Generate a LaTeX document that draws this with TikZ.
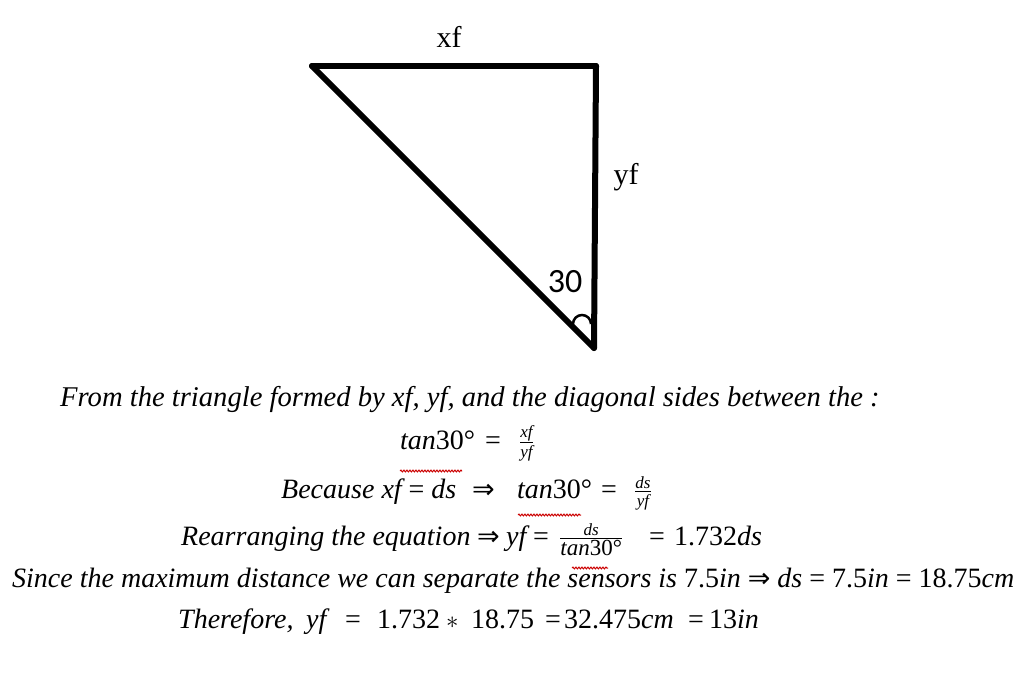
\documentclass[tikz,border=0pt]{standalone}
\usepackage{amsmath}
\usepackage{fontspec}
\setmainfont{Liberation Serif}
\newfontfamily\calfont{Carlito}
\newfontfamily\symfont{DejaVu Sans}
\usetikzlibrary{decorations.pathmorphing}
\tikzset{
  side/.style={line width=6pt, line cap=round},
  lbl/.style={inner sep=0pt, font=\fontsize{30}{36}\selectfont},
  eq/.style={inner sep=0pt, anchor=base west, font=\fontsize{28}{34}\selectfont\itshape},
  squig/.style={red!80!black, line width=1pt, decorate, decoration={snake, amplitude=0.9pt, segment length=3pt}}
}
\newcommand{\up}[1]{{\upshape #1}}
\newcommand{\impl}{{\symfont\upshape\fontsize{27}{30}\selectfont ⇒}}
\newcommand{\fr}[3][17]{$\genfrac{}{}{1pt}{}{\hbox{\fontsize{17}{17}\selectfont\itshape #2}}{\hbox{\fontsize{#1}{#1}\selectfont\itshape #3}}$}
\begin{document}
\begin{tikzpicture}[x=1pt,y=-1pt]
\useasboundingbox[fill=white] (0,0) rectangle (1030,686);
% triangle
\coordinate (A) at (312,66);
\coordinate (B) at (596,66);
\coordinate (C) at (594,348);
\draw[side] (A) -- (B);
\draw[side] (B) -- (C);
\draw[side] (C) -- (A);
\draw[line width=2.5pt] (573,324) arc[start angle=180, end angle=360, radius=9];
\node[lbl] (xf) at (449,37) {xf};
\node[lbl] (yf) at (626,177) {yf};
\node[lbl, font=\calfont\fontsize{34}{40}\selectfont] (ang) at (565,282) {30};
% line 1
\node[eq, font=\fontsize{28.6}{34}\selectfont\itshape] (l1) at (60,406) {From the triangle formed by xf, yf, and the diagonal sides between the :};
% line 2
\node[eq] (l2a) at (400,449) {tan\up{30°}};
\node[eq] (l2b) at (485,449) {\up{=}};
\node[eq] (l2c) at (519,449) {\fr{xf}{yf}};
% line 3
\node[eq] (l3a) at (281,498) {Because xf \up{=} ds};
\node[eq] (l3b) at (472,498) {\impl};
\node[eq] (l3c) at (517,498) {tan\up{30°}};
\node[eq] (l3d) at (601,498) {\up{=}};
\node[eq] (l3e) at (634,498) {\fr{ds}{yf}};
% line 4
\node[eq] (l4a) at (181,545) {Rearranging the equation};
\node[eq] (l4b) at (477,545) {\impl};
\node[eq] (l4c) at (506,545) {yf};
\node[eq] (l4d) at (533,545) {\up{=}};
\node[eq] (l4e) at (559,545) {\fr[23]{ds}{tan\up{30°}}};
\node[eq] (l4f) at (649,545) {\up{=}};
\node[eq] (l4g) at (674,545) {\up{1.732}ds};
% line 5
\node[eq] (l5) at (12,587) {Since the maximum distance we can separate the sensors is \up{7.5}in \impl\ ds\ \up{= 7.5}in \up{= 18.75}cm};
% line 6
\node[eq] (l6a) at (178,628) {Therefore,};
\node[eq] (l6b) at (306,628) {yf};
\node[eq] (l6c) at (345,628) {\up{=}};
\node[eq] (l6d) at (377,628) {\up{1.732}};
\node[eq] (l6e) at (446,628) {$\ast$};
\node[eq] (l6f) at (471,628) {\up{18.75}};
\node[eq] (l6g) at (545,628) {\up{=}};
\node[eq] (l6h) at (564,628) {\up{32.475}cm};
\node[eq] (l6i) at (688,628) {\up{=}};
\node[eq] (l6j) at (709,628) {\up{13}in};
% spell-check marks
\draw[squig] (400,471) -- (462,471);
\draw[squig] (518,515) -- (581,515);
\draw[squig] (572,568) -- (608,568);
\end{tikzpicture}
\end{document}
